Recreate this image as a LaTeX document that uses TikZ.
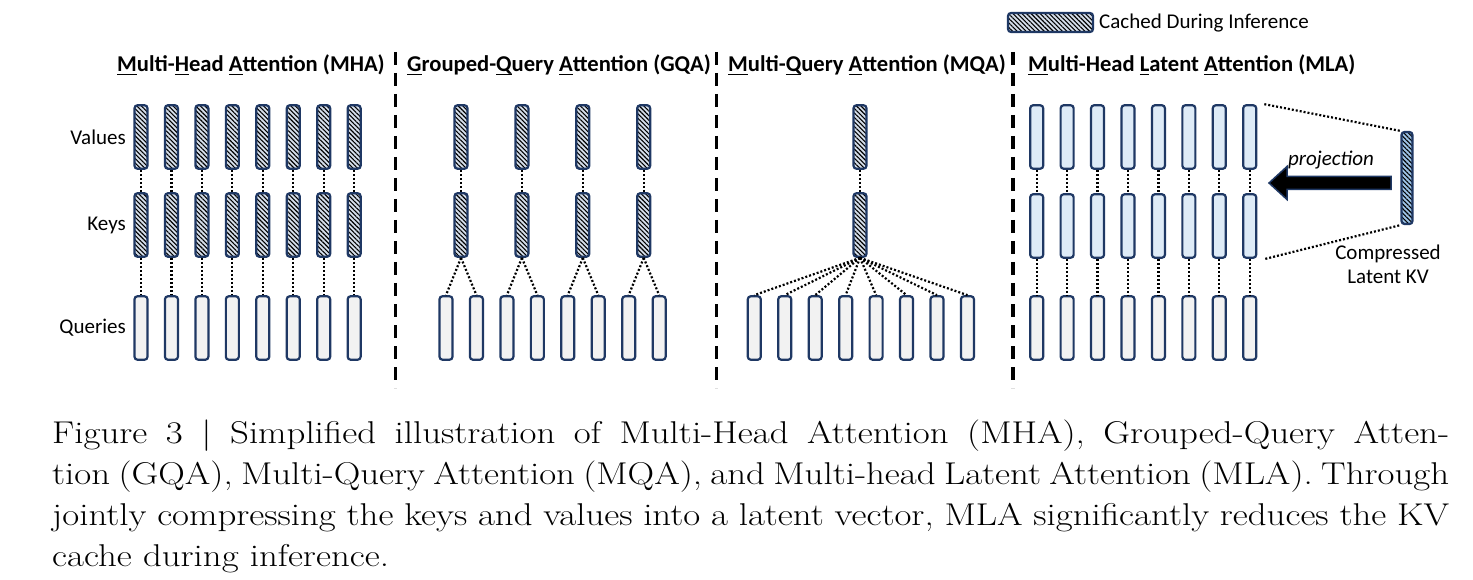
\documentclass[tikz,border=0pt]{standalone}
\usepackage{fontspec}
\usepackage{graphicx}
\setsansfont{Carlito}
\usetikzlibrary{patterns.meta}

\definecolor{navy}{HTML}{1F3864}
\definecolor{qfill}{HTML}{F2F2F2}
\definecolor{kvfill}{HTML}{DEEBF7}
\definecolor{hatchfill}{HTML}{D5DEEA}
\definecolor{latfill}{HTML}{9DC3E6}

\newsavebox{\initbox}
\newcommand{\headinit}[1]{\sbox{\initbox}{#1}\rlap{\rule[-3.5pt]{\wd\initbox}{1.5pt}}\usebox{\initbox}}
\newcommand{\capwide}[1]{\scalebox{1.17}[1]{\makebox[1194pt][s]{#1}}}

\tikzset{
  head/.style={draw=navy, line width=2.2pt, rounded corners=3pt, minimum width=13pt, minimum height=63.5pt, inner sep=0pt},
  query/.style={head, fill=qfill},
  latent/.style={head, fill=kvfill},
  cached/.style={head, preaction={fill=#1}, preaction={pattern={Lines[angle=-45,distance=3.2pt,line width=1.1pt]}, pattern color=black}},
  cached/.default=hatchfill,
  link/.style={line width=2.2pt, dash pattern=on 2pt off 2pt},
  divider/.style={line width=3.5pt, dash pattern=on 13pt off 8pt},
  lbl/.style={inner sep=0pt, font=\sffamily\fontsize{21}{24.5}\selectfont},
  ttl/.style={anchor=west, inner sep=0pt, font=\sffamily\bfseries\fontsize{22.6}{26}\selectfont},
  capline/.style={anchor=base west, inner sep=0pt, font=\rmfamily\fontsize{31.5}{41}\selectfont},
  projarrow/.style={draw=navy, fill=black, line width=1.5pt, line join=miter}
}

\begin{document}
\begin{tikzpicture}[x=1pt,y=-1pt]
\useasboundingbox (0,0) rectangle (1473,580);

\node[cached, minimum width=85pt, minimum height=19pt] (key) at (1050.5,22.5) {};
\node[lbl, anchor=west] (keytext) at (1099,23) {Cached During Inference};

\node[ttl] (tmha) at (117,65) {\headinit{M}ulti-\headinit{H}ead \headinit{A}ttention (MHA)};
\node[ttl] (tgqa) at (407,65) {\headinit{G}rouped-\headinit{Q}uery \headinit{A}ttention (GQA)};
\node[ttl] (tmqa) at (728,65) {\headinit{M}ulti-\headinit{Q}uery \headinit{A}ttention (MQA)};
\node[ttl] (tmla) at (1028,65) {\headinit{M}ulti-Head \headinit{L}atent \headinit{A}ttention (MLA)};

\foreach \x in {395.5,716.5,1013}
  \draw[divider] (\x,52) -- (\x,388);

\node[lbl, anchor=east] (values) at (126,137) {Values};
\node[lbl, anchor=east] (keys) at (126,225) {Keys};
\node[lbl, anchor=east] (queries) at (126,328) {Queries};

% MHA
\foreach \i in {1,...,8} {
  \pgfmathsetmacro\x{141+30.45*(\i-1)}
  \node[cached] (hv\i) at (\x,137) {};
  \node[cached] (hk\i) at (\x,225) {};
  \node[query] (hq\i) at (\x,328) {};
  \draw[link] (hv\i) -- (hk\i);
  \draw[link] (hk\i) -- (hq\i);
}

% GQA
\foreach \j in {1,...,4} {
  \pgfmathsetmacro\x{461+60.9*(\j-1)}
  \node[cached] (gv\j) at (\x,137) {};
  \node[cached] (gk\j) at (\x,225) {};
  \draw[link] (gv\j) -- (gk\j);
}
\foreach \i in {1,...,8} {
  \pgfmathsetmacro\x{446+30.45*(\i-1)}
  \pgfmathtruncatemacro\j{(\i+1)/2}
  \node[query] (gq\i) at (\x,328) {};
  \draw[link] (gk\j.south) -- (gq\i.north);
}

% MQA
\node[cached] (mv) at (860,137) {};
\node[cached] (mk) at (860,225) {};
\draw[link] (mv) -- (mk);
\foreach \i in {1,...,8} {
  \pgfmathsetmacro\x{754.3+30.45*(\i-1)}
  \node[query] (mq\i) at (\x,328) {};
  \draw[link] (mk.south) -- (mq\i.north);
}

% MLA
\foreach \i in {1,...,8} {
  \pgfmathsetmacro\x{1036.7+30.43*(\i-1)}
  \node[latent] (lv\i) at (\x,137) {};
  \node[latent] (lk\i) at (\x,226) {};
  \node[query] (lq\i) at (\x,328) {};
  \draw[link] (lv\i) -- (lk\i);
  \draw[link] (lk\i) -- (lq\i);
}
\node[cached=latfill, minimum width=11pt, minimum height=92pt] (lat) at (1407,178) {};
\draw[link] ([xshift=7pt]lv8.north east) -- (lat.north west);
\draw[link] ([xshift=8pt]lk8.south east) -- (lat.south west);
\draw[projarrow] (1391,176.5) -- (1287,176.5) -- (1287,166.5) -- (1269,183) -- (1287,199.5) -- (1287,189.5) -- (1391,189.5) -- cycle;
\node[lbl, font=\sffamily\itshape\fontsize{21}{24.5}\selectfont] (proj) at (1331,160) {projection};
\node[lbl, align=center] (latkv) at (1388,264.5) {Compressed\\Latent KV};

\node[capline] (cap1) at (52,443.5) {\capwide{Figure 3 | Simplified illustration of Multi-Head Attention (MHA), Grouped-Query Atten-}};
\node[capline] (cap2) at (52,484.5) {\capwide{tion (GQA), Multi-Query Attention (MQA), and Multi-head Latent Attention (MLA). Through}};
\node[capline] (cap3) at (52,525.5) {\capwide{jointly compressing the keys and values into a latent vector, MLA significantly reduces the KV}};
\node[capline] (cap4) at (52,566.5) {\scalebox{1.17}[1]{cache during inference.}};

\end{tikzpicture}
\end{document}
